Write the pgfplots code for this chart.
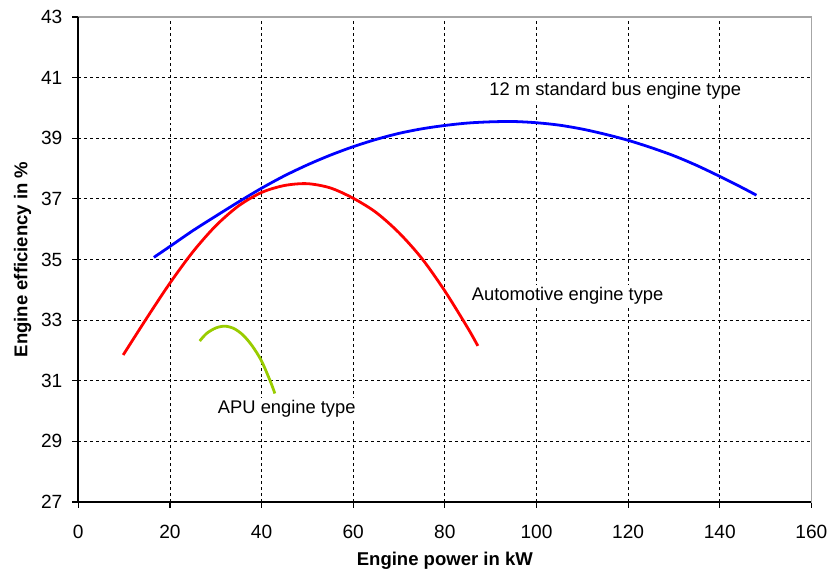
\documentclass[border=0pt]{standalone}
\usepackage{fontspec}
\setmainfont{Liberation Sans}
\usepackage{pgfplots}
\pgfplotsset{compat=1.18}
\definecolor{busblue}{RGB}{0,0,255}
\definecolor{autored}{RGB}{255,0,0}
\definecolor{apugreen}{RGB}{153,204,0}
\begin{document}
\begin{tikzpicture}
\begin{axis}[
  scale only axis,
  width=368pt, height=243.5pt,
  xmin=0, xmax=160, ymin=27, ymax=43,
  xtick={0,20,...,160},
  ytick={27,29,...,43},
  tick pos=left,
  tick align=outside,
  major tick length=3pt,
  tick style={black, line width=0.6pt},
  grid=major,
  grid style={black, line width=0.4pt, dash pattern=on 1.5pt off 1.5pt},
  axis line style={gray!70, line width=0.7pt},
  /pgf/number format/assume math mode=true,
  tick label style={font=\fontsize{9.6}{11}\selectfont},
  xticklabel style={yshift=-5pt},
  yticklabel style={xshift=-1.5pt},
  xlabel={\textbf{Engine power in kW}},
  ylabel={\textbf{Engine efficiency in \%}},
  label style={font=\fontsize{9.3}{11}\selectfont},
  xlabel style={at={(axis description cs:0.5,0)}, anchor=base, yshift=-32pt},
  ylabel style={at={(axis description cs:0,0.5)}, anchor=center, yshift=28pt},
  clip=false,
]
\addplot[busblue, line width=1.4pt, smooth] coordinates {
  (16.5,35.07)(20,35.43)(25,35.95)(30,36.43)(35,36.90)(40,37.35)(45,37.76)
  (50,38.12)(55,38.44)(60,38.72)(65,38.96)(70,39.16)(75,39.31)(80,39.42)
  (85,39.50)(90,39.54)(95,39.55)(100,39.51)(105,39.43)(110,39.30)(115,39.13)
  (120,38.93)(125,38.69)(130,38.42)(135,38.10)(140,37.74)(145,37.36)(148,37.12)
};
\addplot[autored, line width=1.4pt, smooth] coordinates {
  (9.8,31.85)(15,33.08)(20,34.22)(25,35.25)(30,36.11)(35,36.77)(40,37.21)
  (45,37.44)(50,37.50)(55,37.36)(60,37.02)(65,36.55)(70,35.88)(75,35.03)
  (80,33.96)(85,32.74)(87.2,32.15)
};
\addplot[apugreen, line width=1.4pt, smooth] coordinates {
  (26.5,32.31)(28,32.56)(30,32.74)(32,32.80)(34,32.72)(36,32.50)(38,32.14)
  (40,31.65)(42,30.95)(42.9,30.58)
};
\node[fill=white, inner sep=1.5pt, font=\fontsize{9.2}{11}\selectfont]
  at (axis cs:117.2,40.55) {12 m standard bus engine type};
\node[fill=white, inner sep=1.5pt, font=\fontsize{9.2}{11}\selectfont]
  at (axis cs:106.8,33.79) {Automotive engine type};
\node[fill=white, inner sep=1.5pt, font=\fontsize{9.2}{11}\selectfont]
  at (axis cs:45.5,30.06) {APU engine type};
\draw[black, line width=0.8pt] (rel axis cs:0,1) -- (rel axis cs:0,0) -- (rel axis cs:1,0);
\path (rel axis cs:0,0) ++(-39.3pt,-34.5pt);
\path (rel axis cs:1,1) ++(9.5pt,8.5pt);
\end{axis}
\end{tikzpicture}
\end{document}
